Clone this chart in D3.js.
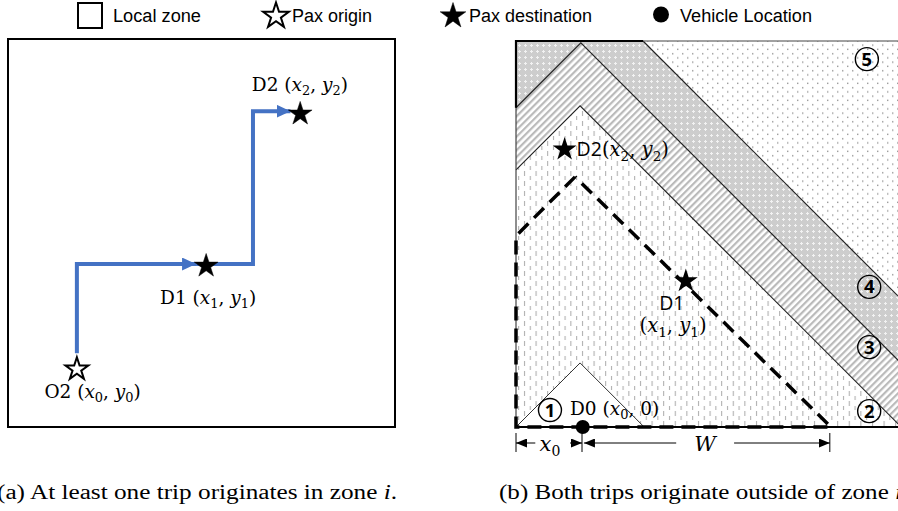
<!DOCTYPE html>
<html><head><meta charset="utf-8">
<script src="https://cdn.jsdelivr.net/npm/d3@7"></script>
<style>body{margin:0;background:#fff}svg{display:block}</style>
</head><body>
<script>
// ---------- data ----------
const legendLabels = ["Local zone", "Pax origin", "Pax destination", "Vehicle Location"];
const legendSymbols = ["square", "starOpen", "star", "dot"];
const legendX = [78, 263, 440, 653];

// panel (a): units 0..100 in both directions
const pathA1 = [[17.8, 19.0], [17.8, 42.0], [48.6, 42.0]];
const pathA2 = [[48.6, 42.0], [63.3, 42.0], [63.3, 81.4], [73.0, 81.4]];
const starsA = [
  {name: "O2", x: 17.8, y: 14.9, open: true},
  {name: "D1", x: 51.2, y: 41.5, open: false},
  {name: "D2", x: 75.5, y: 80.7, open: false}
];
const labelsA = [
  {x: 9.4, y: 7.5, parts: [["O2 (", 0], ["x", 1], ["0", 2], [", ", 0], ["y", 1], ["0", 2], [")", 0]]},
  {x: 39.3, y: 31.7, parts: [["D1 (", 0], ["x", 1], ["1", 2], [", ", 0], ["y", 1], ["1", 2], [")", 0]]},
  {x: 63.0, y: 86.5, parts: [["D2 (", 0], ["x", 1], ["2", 2], [", ", 0], ["y", 1], ["2", 2], [")", 0]]}
];

// panel (b): units 0..100 (x0 at 17.1, W ends at 81.3)
const zone5 = [[32.9, 100], [106, 100], [106, 26.9]];
const zone4 = [[0, 100], [32.9, 100], [106, 26.9], [106, 10.3], [16.8, 99.5], [0, 82.7]];
const zone3 = [[0, 82.7], [16.8, 99.5], [106, 10.3], [106, 0], [99.8, 0], [16.6, 83.2], [0, 66.6]];
const zone2 = [[0, 66.6], [16.6, 83.2], [99.8, 0], [0, 0]];
const zone1 = [[0, 0], [16.6, 16.6], [33.2, 0]];
const boundaryA = [[32.9, 100], [106, 26.9]];
const boundaryB = [[0, 82.7], [16.8, 99.5], [106, 10.3]];
const boundaryC = [[0, 66.6], [16.6, 83.2], [99.8, 0]];
const dashedRoute = [[15.3, 64.8], [0, 49.5], [0, 0], [81.6, 0], [15.3, 64.8]];
const starsB = [{name: "D2", x: 12.6, y: 71.9}, {name: "D1", x: 44.0, y: 37.8}];
const vehicle = {x: 17.3, y: 0};
const zoneNumbers = ["1", "2", "3", "4", "5"];
const zoneNumX = [8.8, 91.5, 91.5, 91.5, 90.9];
const zoneNumY = [4.4, 4.1, 20.7, 36.3, 95.3];
const dimTicks = [0, 17.1, 81.3];

const captions = [
  {x: -3, len: 400, text: ["(a) At least one trip originates in zone ", "i", "."]},
  {x: 499, len: 403, text: ["(b) Both trips originate outside of zone ", "i", ""]}
];

// ---------- setup ----------
const W = 898, H = 511;
const svg = d3.select("body").append("svg").attr("width", W).attr("height", H);
const defs = svg.append("defs");

// patterns
const p2 = defs.append("pattern").attr("id", "p2").attr("patternUnits", "userSpaceOnUse")
  .attr("width", 11.6).attr("height", 10);
p2.append("rect").attr("width", 11.6).attr("height", 10).attr("fill", "#fff");
p2.append("rect").attr("x", 2).attr("y", 1).attr("width", 1).attr("height", 5).attr("fill", "#aaa");
p2.append("rect").attr("x", 7.8).attr("y", 6).attr("width", 1).attr("height", 5).attr("fill", "#aaa");

const p3 = defs.append("pattern").attr("id", "p3").attr("patternUnits", "userSpaceOnUse")
  .attr("width", 4.8).attr("height", 10).attr("patternTransform", "rotate(45)");
p3.append("rect").attr("width", 4.8).attr("height", 10).attr("fill", "#fff");
p3.append("rect").attr("width", 2.2).attr("height", 10).attr("fill", "#bababa");

const p4 = defs.append("pattern").attr("id", "p4").attr("patternUnits", "userSpaceOnUse")
  .attr("width", 6).attr("height", 6);
p4.append("rect").attr("width", 6).attr("height", 6).attr("fill", "#cdcdcd");
p4.append("rect").attr("x", 2).attr("y", 3).attr("width", 3).attr("height", 1).attr("fill", "#f2f2f2");
p4.append("rect").attr("x", 3).attr("y", 2).attr("width", 1).attr("height", 3).attr("fill", "#f2f2f2");

const p5 = defs.append("pattern").attr("id", "p5").attr("patternUnits", "userSpaceOnUse")
  .attr("width", 10).attr("height", 8.5);
p5.append("rect").attr("width", 10).attr("height", 8.5).attr("fill", "#fff");
p5.append("rect").attr("x", 2).attr("y", 2).attr("width", 1.4).attr("height", 1.4).attr("fill", "#9a9a9a");
p5.append("rect").attr("x", 7).attr("y", 6.2).attr("width", 1.4).attr("height", 1.4).attr("fill", "#9a9a9a");

// markers
function marker(id, color, len, half) {
  defs.append("marker").attr("id", id).attr("markerUnits", "userSpaceOnUse")
    .attr("viewBox", `0 ${-half} ${len} ${2 * half}`).attr("refX", len).attr("refY", 0)
    .attr("markerWidth", len).attr("markerHeight", 2 * half).attr("orient", "auto")
    .append("path").attr("d", `M0,${-half}L${len},0L0,${half}Z`).attr("fill", color);
}
marker("blueArrow", "#4472C4", 14, 6.5);
marker("blackArrow", "#000", 11, 4.5);

const starPath = r => d3.symbol(d3.symbolStar, r * r / 0.8908130915292852)();

// ---------- legend ----------
const legendLen = [88, 80, 123, 132];
const lg = svg.append("g");
legendLabels.forEach((lab, i) => {
  const x = legendX[i], s = legendSymbols[i];
  let tx;
  if (s === "square") {
    lg.append("rect").attr("x", x).attr("y", 3).attr("width", 24).attr("height", 25)
      .attr("fill", "#fff").attr("stroke", "#000").attr("stroke-width", 2);
    tx = x + 35;
  } else if (s === "dot") {
    lg.append("circle").attr("cx", x + 8).attr("cy", 14.5).attr("r", 8).attr("fill", "#000");
    tx = x + 27;
  } else {
    lg.append("path").attr("d", starPath(13.5)).attr("transform", `translate(${x + 13},${16})`)
      .attr("fill", s === "star" ? "#000" : "#fff").attr("stroke", "#000")
      .attr("stroke-width", s === "star" ? 0.5 : 2);
    tx = x + 29;
  }
  lg.append("text").attr("x", tx).attr("y", 21.5).text(lab)
    .attr("font-family", "Liberation Sans, Arial, sans-serif").attr("font-size", 18)
    .attr("textLength", legendLen[i]).attr("lengthAdjust", "spacingAndGlyphs");
});

// ---------- panel (a) ----------
const xA = d3.scaleLinear().domain([0, 100]).range([8, 395]);
const yA = d3.scaleLinear().domain([0, 100]).range([427, 39]);
const ga = svg.append("g");
ga.append("rect").attr("x", xA(0)).attr("y", yA(100)).attr("width", xA(100) - xA(0)).attr("height", yA(0) - yA(100))
  .attr("fill", "#fff").attr("stroke", "#000").attr("stroke-width", 2);
const lineA = d3.line().x(d => xA(d[0])).y(d => yA(d[1]));
[pathA1, pathA2].forEach(p => {
  ga.append("path").attr("d", lineA(p)).attr("fill", "none").attr("stroke", "#4472C4")
    .attr("stroke-width", 4).attr("marker-end", "url(#blueArrow)");
});
starsA.forEach(s => {
  ga.append("path").attr("d", starPath(s.open ? 12 : 12.5))
    .attr("transform", `translate(${xA(s.x)},${yA(s.y)})`)
    .attr("fill", s.open ? "#fff" : "#000").attr("stroke", "#000").attr("stroke-width", s.open ? 2 : 0.5);
});

function mathLabel(g, x, y, parts, size, baseFont) {
  const t = g.append("text").attr("x", x).attr("y", y).attr("font-size", size)
    .attr("font-family", baseFont);
  let wasSub = false;
  parts.forEach(([str, kind]) => {
    const sp = t.append("tspan").text(str);
    if (kind === 1) sp.attr("font-style", "italic").attr("font-family", "DejaVu Serif, serif");
    if (kind === 2) {
      sp.attr("font-size", size * 0.7).attr("dy", size * 0.22).attr("font-family", "DejaVu Serif, serif");
      wasSub = true;
    } else if (wasSub) {
      sp.attr("dy", -size * 0.22);
      wasSub = false;
    }
    if (kind === 0 && /[(),]/.test(str) && !/D/.test(str)) sp.attr("font-family", "DejaVu Serif, serif");
  });
  return t;
}
labelsA.forEach(l => mathLabel(ga, xA(l.x), yA(l.y), l.parts, 18.5, "DejaVu Serif, serif"));

// ---------- panel (b) ----------
const xB = d3.scaleLinear().domain([0, 100]).range([516, 902]);
const yB = d3.scaleLinear().domain([0, 100]).range([427, 41]);
const gb = svg.append("g");
const lineB = d3.line().x(d => xB(d[0])).y(d => yB(d[1]));
const poly = p => lineB(p) + "Z";
[[zone5, "p5"], [zone4, "p4"], [zone3, "p3"], [zone2, "p2"]].forEach(([z, p]) => {
  gb.append("path").attr("d", poly(z)).attr("fill", `url(#${p})`);
});
gb.append("path").attr("d", poly(zone1)).attr("fill", "#fff").attr("stroke", "#333").attr("stroke-width", 1);
[boundaryA, boundaryB, boundaryC].forEach(b => {
  gb.append("path").attr("d", lineB(b)).attr("fill", "none").attr("stroke", "#222").attr("stroke-width", 1.2);
});
// panel borders
gb.append("path").attr("d", lineB([[0, 0], [0, 100], [106, 100]])).attr("fill", "none")
  .attr("stroke", "#444").attr("stroke-width", 1.2);
gb.append("path").attr("d", lineB([[0, 82.7], [0, 100], [32.9, 100]])).attr("fill", "none")
  .attr("stroke", "#000").attr("stroke-width", 2.2);
gb.append("path").attr("d", lineB([[0, 0], [106, 0]])).attr("fill", "none")
  .attr("stroke", "#000").attr("stroke-width", 2);
// dashed route
gb.append("path").attr("d", lineB(dashedRoute)).attr("fill", "none").attr("stroke", "#000")
  .attr("stroke-width", 3.5).attr("stroke-dasharray", "14,8");

// zone numbers
zoneNumbers.forEach((n, i) => {
  const cx = xB(zoneNumX[i]), cy = yB(zoneNumY[i]);
  gb.append("circle").attr("cx", cx).attr("cy", cy).attr("r", 11.5).attr("fill", "none")
    .attr("stroke", "#000").attr("stroke-width", 1.4);
  gb.append("text").attr("x", cx).attr("y", cy + 6.5).attr("text-anchor", "middle")
    .attr("font-family", "Open Sans, sans-serif").attr("font-size", 18.5).attr("font-weight", 700).text(n);
});

// stars + labels
starsB.forEach(s => {
  gb.append("path").attr("d", starPath(12.5)).attr("transform", `translate(${xB(s.x)},${yB(s.y)})`)
    .attr("fill", "#000");
});
mathLabel(gb, xB(15.7), yB(71.9) + 7, [["D2", 0], ["(", 0], ["x", 1], ["2", 2], [", ", 0], ["y", 1], ["2", 2], [")", 0]], 19.5, "Open Sans, sans-serif");
gb.append("text").attr("x", xB(37.1)).attr("y", yB(30.3)).attr("font-family", "Open Sans, sans-serif")
  .attr("font-size", 19.5).text("D1");
mathLabel(gb, xB(32), yB(24.5), [["(", 0], ["x", 1], ["1", 2], [", ", 0], ["y", 1], ["1", 2], [")", 0]], 19.5, "DejaVu Serif, serif");
mathLabel(gb, xB(14), yB(3.2), [["D0 (", 0], ["x", 1], ["0", 2], [", 0)", 0]], 18.5, "DejaVu Serif, serif");

// vehicle
gb.append("circle").attr("cx", xB(vehicle.x)).attr("cy", yB(vehicle.y)).attr("r", 7).attr("fill", "#000");

// dimension lines
const dimY = 443;
dimTicks.forEach(t => {
  gb.append("line").attr("x1", xB(t)).attr("x2", xB(t)).attr("y1", 433).attr("y2", 452)
    .attr("stroke", "#000").attr("stroke-width", 1);
});
const dimArrows = [[5.0, 0], [14.0, 17.1], [41.5, 17.6], [56.5, 81.3]];
dimArrows.forEach(([a, b]) => {
  gb.append("line").attr("x1", xB(a)).attr("x2", xB(b)).attr("y1", dimY).attr("y2", dimY)
    .attr("stroke", "#000").attr("stroke-width", 1).attr("marker-end", "url(#blackArrow)");
});
gb.append("text").attr("x", xB(8.8)).attr("y", 451).attr("text-anchor", "middle")
  .attr("font-family", "DejaVu Serif, serif").attr("font-size", 21)
  .call(t => { t.append("tspan").attr("font-style", "italic").text("x");
               t.append("tspan").attr("font-size", 14).attr("dy", 5).text("0"); });
gb.append("text").attr("x", xB(49)).attr("y", 451).attr("text-anchor", "middle")
  .attr("font-family", "DejaVu Serif, serif").attr("font-style", "italic").attr("font-size", 21).text("W");

// ---------- captions ----------
captions.forEach(c => {
  const t = svg.append("text").attr("x", c.x).attr("y", 499).attr("font-family", "Liberation Serif, serif")
    .attr("font-size", 20).attr("textLength", c.len).attr("lengthAdjust", "spacingAndGlyphs");
  t.append("tspan").text(c.text[0]);
  t.append("tspan").attr("font-style", "italic").text(c.text[1]);
  t.append("tspan").text(c.text[2]);
});
</script>
</body></html>
